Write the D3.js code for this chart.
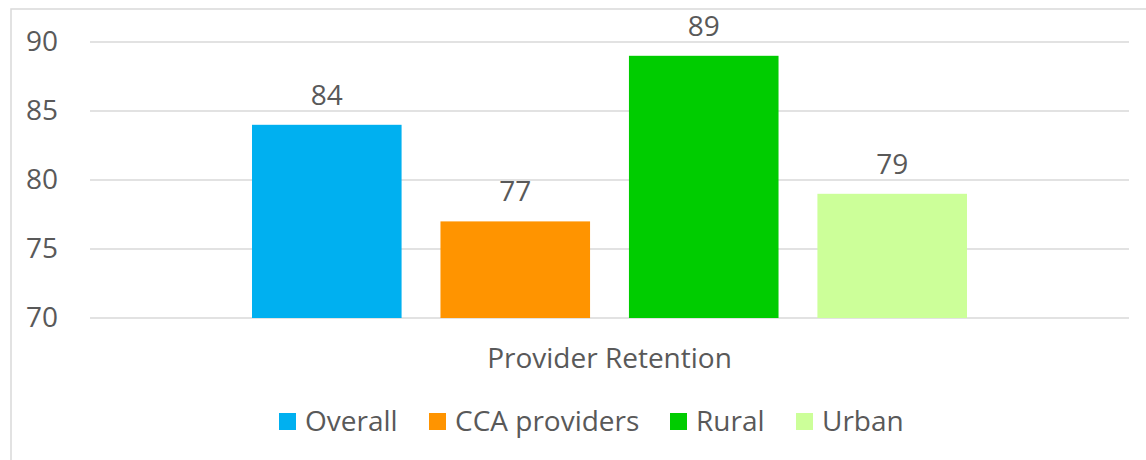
<!DOCTYPE html>
<html><head><meta charset="utf-8">
<script src="https://cdn.jsdelivr.net/npm/d3@7"></script>
<style>body{margin:0;background:#fff}svg{display:block}text{font-family:"Open Sans",sans-serif;fill:#595959}</style>
</head><body><svg id="c" width="1146" height="460"></svg>
<script>
const categories = ["Provider Retention"];
const seriesNames = ["Overall","CCA providers","Rural","Urban"];
const seriesValues = [84,77,89,79];
const seriesColors = ["#00b0f0","#ff9400","#00cc00","#ccff99"];
const yTicks = [70,75,80,85,90];

(function(){
const svg = d3.select("#c");
svg.append("rect").attr("x",11).attr("y",9).attr("width",1150).attr("height",470)
  .attr("fill","#fff").attr("stroke","#d9d9d9").attr("stroke-width",1.5);

const pl=90,pr=1129,pt=42,pb=318;
const y = d3.scaleLinear().domain([70,90]).range([pb,pt]);
const x0 = d3.scaleBand().domain(categories).range([pl,pr]).paddingInner(0).paddingOuter(0);
const x1 = d3.scaleBand().domain(seriesNames).range([252-x0(categories[0]), 967-x0(categories[0])]).paddingInner(39/189).paddingOuter(0);

const grid = svg.append("g");
grid.selectAll("line").data(yTicks).join("line")
  .attr("x1",pl).attr("x2",pr).attr("y1",d=>y(d)).attr("y2",d=>y(d))
  .attr("stroke","#d9d9d9").attr("stroke-width",1.5);

const yAxis = svg.append("g").attr("transform",`translate(${pl},0)`)
  .call(d3.axisLeft(y).tickValues(yTicks).tickSize(0).tickPadding(32));
yAxis.select(".domain").remove();
yAxis.selectAll("text").style("font-size","28px").style("font-family","'Open Sans',sans-serif").attr("fill","#595959").attr("dy","0.29em");

const g = svg.append("g").attr("transform",`translate(${x0(categories[0])},0)`);
const data = seriesNames.map((n,i)=>({n,v:seriesValues[i],c:seriesColors[i]}));
g.selectAll("rect").data(data).join("rect")
  .attr("x",d=>x1(d.n)).attr("width",x1.bandwidth())
  .attr("y",d=>y(d.v)).attr("height",d=>y(70)-y(d.v)).attr("fill",d=>d.c);
g.selectAll("text.v").data(data).join("text").attr("class","v")
  .attr("x",d=>x1(d.n)+x1.bandwidth()/2).attr("y",d=>y(d.v)-20)
  .attr("text-anchor","middle").style("font-size","28px").text(d=>d.v);

svg.append("text").attr("x",x0(categories[0])+x0.bandwidth()/2).attr("y",368)
  .attr("text-anchor","middle").style("font-size","28px").text(categories[0]);

const legX = [279,429,670,796];
const leg = svg.append("g");
data.forEach((d,i)=>{
  leg.append("rect").attr("x",legX[i]).attr("y",413).attr("width",17).attr("height",17).attr("fill",d.c);
  leg.append("text").attr("x",legX[i]+26).attr("y",431).style("font-size","28px").text(d.n);
});
})();
</script></body></html>
